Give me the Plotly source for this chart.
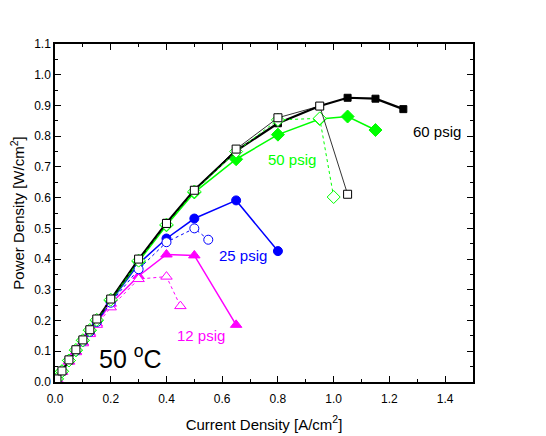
import plotly.graph_objects as go

# current density [A/cm2] and power density [W/cm2]
I_low = [0.007, 0.025, 0.05, 0.075, 0.1, 0.125, 0.15, 0.2]

I_60 = I_low + [0.3, 0.4, 0.5, 0.65, 0.8, 0.95, 1.05, 1.15, 1.25]
P_60 = [0.01, 0.036, 0.072, 0.105, 0.137, 0.17, 0.205, 0.27,
        0.399, 0.518, 0.625, 0.752, 0.842, 0.898, 0.925, 0.922, 0.888]
I_60o = I_low + [0.3, 0.4, 0.5, 0.65, 0.8, 0.95, 1.05]
P_60o = [0.01, 0.036, 0.072, 0.105, 0.137, 0.17, 0.205, 0.27,
         0.40, 0.516, 0.624, 0.758, 0.86, 0.898, 0.611]

I_50 = I_low + [0.3, 0.4, 0.5, 0.65, 0.8, 0.95, 1.05, 1.15]
P_50 = [0.01, 0.035, 0.07, 0.103, 0.135, 0.168, 0.2, 0.265,
        0.392, 0.51, 0.617, 0.725, 0.805, 0.856, 0.864, 0.82]
I_50o = I_low + [0.3, 0.4, 0.5, 0.65, 0.8, 0.95, 1.0]
P_50o = [0.01, 0.035, 0.07, 0.104, 0.136, 0.169, 0.202, 0.268,
         0.395, 0.512, 0.62, 0.75, 0.853, 0.858, 0.602]

I_25 = I_low + [0.3, 0.4, 0.5, 0.65, 0.8]
P_25 = [0.01, 0.035, 0.07, 0.102, 0.133, 0.165, 0.197, 0.262,
        0.385, 0.467, 0.532, 0.591, 0.426]
I_25o = I_low + [0.3, 0.4, 0.5, 0.55]
P_25o = [0.01, 0.034, 0.069, 0.101, 0.132, 0.163, 0.195, 0.258,
         0.367, 0.455, 0.50, 0.463]

I_12 = I_low + [0.3, 0.4, 0.5, 0.65]
P_12 = [0.01, 0.034, 0.068, 0.099, 0.129, 0.16, 0.19, 0.255,
        0.345, 0.415, 0.412, 0.186]
I_12o = I_low + [0.3, 0.4, 0.45]
P_12o = [0.01, 0.033, 0.066, 0.097, 0.126, 0.156, 0.186, 0.243,
         0.335, 0.343, 0.247]

labels = ['60 psig', '50 psig', '25 psig', '12 psig']
label_x = [1.37, 0.852, 0.675, 0.524]
label_y = [0.814, 0.725, 0.413, 0.151]

BLACK, GREEN, BLUE, MAGENTA = '#000000', '#00ff00', '#0000ff', '#ff00ff'

fig = go.Figure()


def add(x, y, color, symbol, dash, width, size, open_=False):
    fig.add_trace(go.Scatter(
        x=x, y=y, mode='lines+markers',
        line=dict(color=color, width=width, dash=dash),
        marker=dict(symbol=symbol, size=size,
                    color='white' if open_ else color,
                    line=dict(color=color, width=1)),
        showlegend=False))


# solid/filled series first, open ones on top
add(I_12, P_12, MAGENTA, 'triangle-up', 'solid', 1.5, 10)
add(I_25, P_25, BLUE, 'circle', 'solid', 1.5, 9)
add(I_50, P_50, GREEN, 'diamond', 'solid', 1.5, 10)
add(I_60, P_60, BLACK, 'square', 'solid', 2.2, 7)
add(I_12o, P_12o, MAGENTA, 'triangle-up', 'dot', 1, 10, True)
add(I_25o, P_25o, BLUE, 'circle', 'dot', 1, 9, True)
add(I_50o, P_50o, GREEN, 'diamond', 'dot', 1, 10, True)
add(I_60o, P_60o, BLACK, 'square', 'solid', 0.8, 8, True)

for t, x, y, c in zip(labels, label_x, label_y, [BLACK, GREEN, BLUE, MAGENTA]):
    fig.add_annotation(x=x, y=y, text=t, showarrow=False,
                       font=dict(size=15, color=c))
fig.add_annotation(x=0.272, y=0.083, text='50 <sup>o</sup>C', showarrow=False,
                   font=dict(size=25, color='black'))

axis = dict(showline=True, linecolor='black', linewidth=1.5, mirror='allticks',
            ticks='inside', ticklen=6, tickcolor='black', tickwidth=1,
            showgrid=False, zeroline=False, tickformat='.1f', automargin=False,
            tickfont=dict(size=12, color='black'))

fig.update_xaxes(axis, range=[0, 1.5], dtick=0.2, ticklabelstandoff=5,
                 minor=dict(ticks='inside', ticklen=3, dtick=0.1, tickcolor='black'),
                 title=dict(text='Current Density [A/cm<sup>2</sup>]',
                            font=dict(size=15, color='black'), standoff=14))
fig.update_yaxes(axis, range=[0, 1.1], dtick=0.1,
                 minor=dict(ticks='inside', ticklen=3, dtick=0.05, tickcolor='black'),
                 title=dict(text='Power Density [W/cm<sup>2</sup>]',
                            font=dict(size=15, color='black'), standoff=8))

# page body has an 8px default margin, so margins are offset by that
fig.update_layout(width=546, height=436,
                  margin=dict(l=47, r=81, t=36, b=62),
                  paper_bgcolor='white', plot_bgcolor='white',
                  font=dict(family='Liberation Sans, Arial, sans-serif'))

fig.write_html("out.html")
